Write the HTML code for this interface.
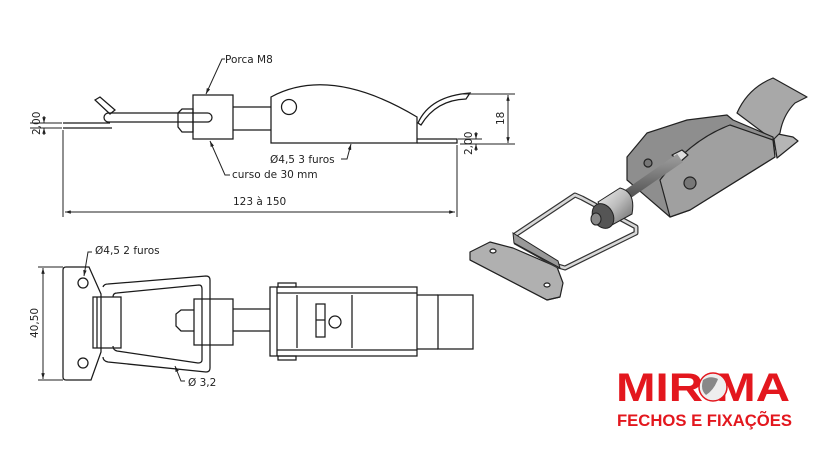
<!DOCTYPE html>
<html><head><meta charset="utf-8"><style>
html,body{margin:0;padding:0;background:#fff;width:830px;height:450px;overflow:hidden}
svg{display:block}
text{font-family:"DejaVu Sans","Liberation Sans",sans-serif;fill:#222}
</style></head><body>
<svg width="830" height="450" viewBox="0 0 830 450" xmlns="http://www.w3.org/2000/svg">
<defs>
<marker id="a" viewBox="0 0 10 6" refX="10" refY="3" markerWidth="6" markerHeight="3.5" orient="auto-start-reverse"><path d="M0,0L10,3L0,6z" fill="#222"/></marker>
<linearGradient id="cyl" x1="0" y1="0" x2="1" y2="1"><stop offset="0" stop-color="#f2f2f2"/><stop offset="0.5" stop-color="#bbb"/><stop offset="1" stop-color="#666"/></linearGradient>
<linearGradient id="rod" x1="0" y1="0" x2="0" y2="1"><stop offset="0" stop-color="#999"/><stop offset="1" stop-color="#444"/></linearGradient>
</defs>
<g fill="none" stroke="#1a1a1a" stroke-width="1.25">
<!-- TOP SIDE VIEW -->
<path d="M63,123 H110 M63,128 H112"/>
<path d="M95,100 L100,97 L115,110 L110,114 Z"/>
<rect x="104" y="113" width="108" height="9" rx="4.5"/>
<path d="M178,113 L182,109 H193 V132 H182 L178,127 Z"/>
<rect x="193" y="95" width="40" height="44"/>
<path d="M233,107 H271 M233,130 H271"/>
<path d="M271,143 V97 Q330,65 417,117 V143 Z"/>
<circle cx="289" cy="107" r="7.5"/>
<path d="M417,139 H457 V143 H417"/>
<path d="M418,123 Q430,96 470,93 L466,99 Q436,100 421,125 Z"/>
</g>
<g fill="none" stroke="#222" stroke-width="1">
<!-- dims top -->
<path d="M63,130 V217 M457,145 V217"/>
<path d="M65,212 H455" marker-start="url(#a)" marker-end="url(#a)"/>
<path d="M30,123 H62 M30,128 H62"/>
<path d="M44,116 V123" marker-end="url(#a)"/><path d="M44,135 V128" marker-end="url(#a)"/>
<path d="M462,94 H515 M460,144 H515"/>
<path d="M508,95 V143" marker-start="url(#a)" marker-end="url(#a)"/>
<path d="M458,139 H482"/>
<path d="M476,132 V139" marker-end="url(#a)"/><path d="M476,151 V144" marker-end="url(#a)"/>
<!-- leaders -->
<path d="M206,94 L222,59 H225" marker-start="url(#a)"/>
<path d="M210,141 L225,175 H230" marker-start="url(#a)"/>
<path d="M351,144 L347,159 H341" marker-start="url(#a)"/>
<path d="M38,267 H63 M38,380 H63"/>
<path d="M43,268 V379" marker-start="url(#a)" marker-end="url(#a)"/>
<path d="M84,276 L88,252 H92" marker-start="url(#a)"/>
<path d="M175,366 L181,381 H185" marker-start="url(#a)"/>
</g>
<g fill="none" stroke="#1a1a1a" stroke-width="1.25">
<!-- BOTTOM VIEW -->
<path d="M66,267 H89 L101,294 V352 L91,380 H66 Q63,380 63,377 V270 Q63,267 66,267 Z"/>
<circle cx="83" cy="283" r="5"/><circle cx="83" cy="363" r="5"/>
<rect x="93" y="297" width="28" height="51"/>
<path d="M97,297 V348"/>
<path d="M103,287 Q104,284 108,284 L206,276 Q210,276 210,280 V368 Q210,372 206,372 L108,362 Q103,361 103,357"/>
<path d="M113,297 Q113,293 117,293 L199,285 Q202,285 202,289 V360 Q202,363 198,363 L117,351 Q113,350 113,346"/>
<path d="M194,310 H181 L176,314 V326 L181,331 H194"/>
<rect x="194" y="299" width="39" height="46"/>
<path d="M233,309 H270 M233,331 H270"/>
<rect x="270" y="287" width="147" height="69"/>
<rect x="278" y="283" width="18" height="4"/><rect x="278" y="356" width="18" height="4"/>
<path d="M277,293 H417 M277,350 H417 M277,287 V356 M352,295 V348 M297,295 V348"/>
<rect x="316" y="304" width="9" height="33"/>
<path d="M316,320 H325"/>
<circle cx="335" cy="322" r="6"/>
<rect x="438" y="295" width="35" height="54"/>
<path d="M417,295 H438 M417,349 H438"/>
</g>
<g font-size="10.5">
<text x="225" y="63">Porca M8</text>
<text x="232" y="178">curso de 30 mm</text>
<text x="270" y="163">Ø4,5  3 furos</text>
<text x="233" y="205">123 à 150</text>
<text x="95" y="254">Ø4,5   2 furos</text>
<text x="188" y="386">Ø 3,2</text>
<text transform="translate(40,135) rotate(-90)">2,00</text>
<text transform="translate(472,155) rotate(-90)">2,00</text>
<text transform="translate(504,125) rotate(-90)">18</text>
<text transform="translate(38,338) rotate(-90)">40,50</text>
</g>
<!-- 3D RENDER -->
<g stroke="#222" stroke-width="1.2" stroke-linejoin="round">
<path d="M773,133 L793,137 L798,141 L777,158 Z" fill="#b5b5b5"/>
<path d="M737,113 Q748,88 773,78 L807,97 L795,103 Q783,115 780,133 L773,140 Z" fill="#a8a8a8"/>
<path d="M470,252 L490,242 L513,248 L557,267 L563,283 L560,297 L547,300 L470,260 Z" fill="#b0b0b0"/>
<path d="M470,260 L547,300 L560,297" fill="none"/>
<ellipse cx="493" cy="251" rx="3" ry="2" fill="#fff"/>
<ellipse cx="547" cy="285" rx="3" ry="2" fill="#fff"/>
<path d="M627,157 L647,133 L687,120 L727,115 L733,120 L773,137 L775,157 L690,210 L670,217 L627,180 Z" fill="#8e8e8e"/>
<path d="M660,180 Q690,140 730,125 L773,140 L775,157 L690,210 L670,217 Z" fill="#a0a0a0"/>
<circle cx="690" cy="183" r="6" fill="#777"/>
<circle cx="648" cy="163" r="4" fill="#777"/>
<path d="M672,155 L682,150 L688,155 L680,162 Z" fill="#ddd"/>
</g>
<path d="M612,205 L680,158" stroke="url(#rod)" stroke-width="10"/>
<g stroke="#333" stroke-width="5" fill="none" stroke-linejoin="round">
<path d="M515,235 L575,195 L582,198 L636,227 L636,233 L565,268 L558,266 L515,242"/>
</g>
<g stroke="#d8d8d8" stroke-width="2.6" fill="none" stroke-linejoin="round">
<path d="M515,235 L575,195 L582,198 L636,227 L636,233 L565,268 L558,266 L515,242"/>
</g>
<path d="M513,233 L558,261 L560,268 L514,243 Z" fill="#999" stroke="#222"/>
<g stroke="#222" stroke-width="1">
<path d="M598,202 L620,188 Q636,192 632,214 L612,225 Z" fill="url(#cyl)"/>
<ellipse cx="603" cy="216" rx="10" ry="13" transform="rotate(-30 603 216)" fill="#555"/>
<ellipse cx="596" cy="219" rx="5" ry="6" fill="#888"/>
</g>
<!-- LOGO -->
<g font-weight="bold">
<text x="616" y="401" font-size="40" textLength="174" lengthAdjust="spacingAndGlyphs" style="fill:#e3171e;font-family:'Liberation Sans',sans-serif">MIR MA</text>
<circle cx="713" cy="387" r="14" fill="#eee" stroke="#e3171e" stroke-width="1.5"/>
<path d="M703,380 Q710,375 718,379 Q714,390 706,395 Q700,390 703,380 Z" fill="#888"/>
<text x="617" y="426" font-size="17" textLength="175" lengthAdjust="spacingAndGlyphs" style="fill:#e3171e;font-family:'Liberation Sans',sans-serif">FECHOS E FIXAÇÕES</text>
</g>
</svg>
</body></html>
